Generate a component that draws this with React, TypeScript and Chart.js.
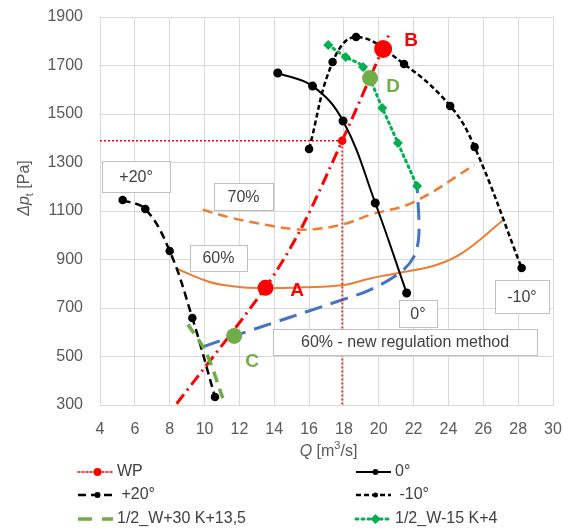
import React, { useEffect, useRef } from "react";
import { Chart, registerables } from "chart.js";

Chart.register(...registerables);

// ---- data (Q [m3/s], Δp [Pa]) ----
const qTicks = [4, 6, 8, 10, 12, 14, 16, 18, 20, 22, 24, 26, 28, 30];
const pTicks = [300, 500, 700, 900, 1100, 1300, 1500, 1700, 1900];

const wpQ = [4, 17.9, 17.9];
const wpP = [1390, 1390, 300];

const deg0Q = [14.2, 16.2, 17.95, 19.8, 21.6];
const deg0P = [1669, 1615, 1471, 1133, 762];

const plus20Q = [5.3, 6.6, 8.0, 9.3, 10.6];
const plus20P = [1145, 1108, 935, 659, 333];

const minus10Q = [16.0, 17.35, 18.7, 21.45, 24.1, 25.5, 28.2];
const minus10P = [1356, 1714, 1818, 1706, 1533, 1364, 865];

const w30Q = [9.05, 10.1, 11.05];
const w30P = [632, 515, 328];

const w15Q = [17.1, 18.1, 19.1, 20.2, 21.1, 22.2];
const w15P = [1785, 1735, 1694, 1525, 1380, 1203];

const systemQ = [8.4, 13.5, 15.6, 17.9, 20.2, 20.6];
const systemP = [305, 785, 1035, 1390, 1765, 1830];

const eff60Q = [8.4, 10.3, 11.6, 13.2, 16.2, 18, 19.5, 21.2, 23.3, 24.8, 27.1];
const eff60P = [862, 807, 790, 782, 787, 795, 822, 845, 877, 927, 1060];

const eff70Q = [9.9, 11.6, 13.6, 15.1, 16.2, 18, 19.5, 22, 25.5];
const eff70P = [1105, 1071, 1042, 1026, 1024, 1046, 1084, 1137, 1290];

const newRegQ = [9.9, 11.7, 18.2, 19.5, 21.2, 22.0, 22.3, 22.2];
const newRegP = [540, 585, 741, 775, 845, 910, 1000, 1205];

const opNames = ["A", "B", "C", "D"];
const opQ = [13.5, 20.25, 11.7, 19.5];
const opP = [783, 1768, 585, 1648];

const boxTexts = ["+20°", "70%", "60%", "60% - new regulation method", "0°", "-10°"];

// ---- layout of annotations (data-space anchors, pixel sizes) ----
const boxLayout = [
  { q: 6.07, p: 1242, w: 68, h: 31 },
  { q: 12.24, p: 1160, w: 59, h: 27 },
  { q: 10.8, p: 906, w: 57, h: 26 },
  { q: 21.51, p: 560, w: 264, h: 26 },
  { q: 22.25, p: 677, w: 38, h: 27 },
  { q: 28.22, p: 747, w: 54, h: 33 },
];
const letterLayout = [
  { q: 15.31, p: 770, color: "#FF0000" },
  { q: 21.85, p: 1801, color: "#FF0000" },
  { q: 12.73, p: 477, color: "#70AD47" },
  { q: 20.82, p: 1611, color: "#70AD47" },
];

const FONT = '"Liberation Sans", Arial, sans-serif';
const zip = (xs: number[], ys: number[]) => xs.map((x, i) => ({ x, y: ys[i] }));

type LegendItem = {
  text: string;
  color: string;
  width: number;
  dash: number[];
  marker: "circle" | "diamond" | null;
  r: number;
};
const legendItems: LegendItem[] = [
  { text: "WP", color: "#FF0000", width: 1.5, dash: [2, 2], marker: "circle", r: 4 },
  { text: "0°", color: "#000000", width: 2, dash: [], marker: "circle", r: 3 },
  { text: " +20°", color: "#000000", width: 2.5, dash: [8, 5], marker: "circle", r: 3 },
  { text: " -10°", color: "#000000", width: 2.5, dash: [5, 3], marker: "circle", r: 2.5 },
  { text: "1/2_W+30 K+13,5", color: "#70AD47", width: 3.5, dash: [14, 10], marker: null, r: 0 },
  { text: "1/2_W-15 K+4", color: "#00B050", width: 3, dash: [2, 4], marker: "diamond", r: 5 },
];

function drawMarker(ctx: CanvasRenderingContext2D, kind: string | null, x: number, y: number, r: number, color: string) {
  if (!kind) return;
  ctx.save();
  ctx.setLineDash([]);
  ctx.fillStyle = color;
  ctx.beginPath();
  if (kind === "circle") {
    ctx.arc(x, y, r, 0, Math.PI * 2);
  } else {
    ctx.moveTo(x, y - r);
    ctx.lineTo(x + r, y);
    ctx.lineTo(x, y + r);
    ctx.lineTo(x - r, y);
    ctx.closePath();
  }
  ctx.fill();
  ctx.restore();
}

const overlayPlugin = {
  id: "overlay",
  afterDatasetsDraw(chart: any) {
    const ctx: CanvasRenderingContext2D = chart.ctx;
    const xs = chart.scales.x;
    const ys = chart.scales.y;
    ctx.save();
    // text boxes
    boxTexts.forEach((t, i) => {
      const b = boxLayout[i];
      const cx = xs.getPixelForValue(b.q);
      const cy = ys.getPixelForValue(b.p);
      const x0 = Math.round(cx - b.w / 2) + 0.5;
      const y0 = Math.round(cy - b.h / 2) + 0.5;
      ctx.fillStyle = "#FFFFFF";
      ctx.fillRect(x0, y0, b.w, b.h);
      ctx.strokeStyle = "#BFBFBF";
      ctx.lineWidth = 1;
      ctx.setLineDash([]);
      ctx.strokeRect(x0, y0, b.w, b.h);
      ctx.fillStyle = "#404040";
      ctx.font = `16px ${FONT}`;
      ctx.textAlign = "center";
      ctx.textBaseline = "middle";
      ctx.fillText(t, cx, cy + 1);
    });
    // operating point letters
    opNames.forEach((n, i) => {
      const l = letterLayout[i];
      ctx.fillStyle = l.color;
      ctx.font = `bold 19px ${FONT}`;
      ctx.textAlign = "center";
      ctx.textBaseline = "middle";
      ctx.fillText(n, xs.getPixelForValue(l.q), ys.getPixelForValue(l.p));
    });
    ctx.restore();
  },
  afterDraw(chart: any) {
    const ctx: CanvasRenderingContext2D = chart.ctx;
    const area = chart.chartArea;
    ctx.save();
    ctx.fillStyle = "#595959";
    ctx.textBaseline = "middle";
    // x title: Q [m3/s]
    {
      const italic = `italic 16px ${FONT}`;
      const normal = `16px ${FONT}`;
      const small = `11px ${FONT}`;
      const parts = [
        { t: "Q", f: italic, dy: 0 },
        { t: " [m", f: normal, dy: 0 },
        { t: "3", f: small, dy: -6 },
        { t: "/s]", f: normal, dy: 0 },
      ];
      let total = 0;
      parts.forEach((p) => { ctx.font = p.f; total += ctx.measureText(p.t).width; });
      let x = (area.left + area.right) / 2 - total / 2 + 2;
      const y = 452;
      ctx.textAlign = "left";
      parts.forEach((p) => {
        ctx.font = p.f;
        ctx.fillText(p.t, x, y + p.dy);
        x += ctx.measureText(p.t).width;
      });
    }
    // y title: Δp_t [Pa]
    {
      ctx.save();
      ctx.translate(25, 188);
      ctx.rotate(-Math.PI / 2);
      const parts = [
        { t: "Δp", f: `italic 16px ${FONT}`, dy: 0 },
        { t: "t", f: `11px ${FONT}`, dy: 5 },
        { t: " [Pa]", f: `16px ${FONT}`, dy: 0 },
      ];
      let total = 0;
      parts.forEach((p) => { ctx.font = p.f; total += ctx.measureText(p.t).width; });
      let x = -total / 2;
      ctx.textAlign = "left";
      parts.forEach((p) => {
        ctx.font = p.f;
        ctx.fillText(p.t, x, p.dy);
        x += ctx.measureText(p.t).width;
      });
      ctx.restore();
    }
    // legend (2 columns)
    const colX = [78, 356];
    const rowY = [472, 495, 519];
    legendItems.forEach((it, i) => {
      const x = colX[i % 2];
      const y = rowY[Math.floor(i / 2)];
      const len = 35;
      ctx.save();
      ctx.strokeStyle = it.color;
      ctx.lineWidth = it.width;
      ctx.setLineDash(it.dash);
      ctx.lineCap = it.dash.length && it.dash[0] <= 3 ? "round" : "butt";
      ctx.beginPath();
      ctx.moveTo(x, y);
      ctx.lineTo(x + len, y);
      ctx.stroke();
      ctx.restore();
      drawMarker(ctx, it.marker, x + len / 2 + 2, y, it.r, it.color);
      ctx.fillStyle = "#404040";
      ctx.font = `16px ${FONT}`;
      ctx.textAlign = "left";
      ctx.textBaseline = "middle";
      ctx.fillText(it.text, x + len + 4, y);
    });
    ctx.restore();
  },
};

export default function App() {
  const ref = useRef<HTMLCanvasElement | null>(null);

  useEffect(() => {
    if (!ref.current) return;
    const line = (
      label: string,
      q: number[],
      p: number[],
      color: string,
      width: number,
      dash: number[],
      extra: any = {}
    ) => ({
      label,
      data: zip(q, p),
      showLine: true,
      borderColor: color,
      backgroundColor: color,
      borderWidth: width,
      borderDash: dash,
      tension: 0.4,
      pointRadius: 0,
      pointHoverRadius: 0,
      ...extra,
    });

    const chart = new Chart(ref.current, {
      type: "scatter",
      data: {
        datasets: [
          {
            label: "points",
            data: zip(opQ, opP),
            showLine: false,
            pointRadius: [8, 9, 8, 8],
            pointBackgroundColor: ["#FF0000", "#FF0000", "#70AD47", "#70AD47"],
            pointBorderColor: ["#FF0000", "#FF0000", "#70AD47", "#70AD47"],
            pointBorderWidth: 0,
          },
          line("1/2_W-15 K+4", w15Q, w15P, "#00B050", 3, [2, 4], {
            pointRadius: 5,
            pointStyle: "rectRot",
            pointBorderWidth: 0,
            borderCapStyle: "round",
            tension: 0.3,
          }),
          line("1/2_W+30 K+13,5", w30Q, w30P, "#70AD47", 3.5, [11, 7], { tension: 0.3 }),
          line("WP", wpQ, wpP, "#FF0000", 1.5, [2, 2], { pointRadius: [0, 3.5, 0], tension: 0 }),
          line("0°", deg0Q, deg0P, "#000000", 2, [], { pointRadius: 3.5 }),
          line("+20°", plus20Q, plus20P, "#000000", 2.5, [8, 5], { pointRadius: 3 }),
          line("-10°", minus10Q, minus10P, "#000000", 2.5, [5, 3], { pointRadius: 3 }),
          line("system", systemQ, systemP, "#FF0000", 3, [12, 5, 2, 5], { tension: 0.3 }),
          line("new regulation", newRegQ, newRegP, "#4472C4", 3, [18, 9], { tension: 0.35 }),
          line("60%", eff60Q, eff60P, "#ED7D31", 2, [], {}),
          line("70%", eff70Q, eff70P, "#ED7D31", 2.5, [10, 6], {}),
        ],
      },
      options: {
        responsive: false,
        animation: false,
        events: [],
        layout: { padding: { top: 17, right: 25, left: 0, bottom: 0 } },
        plugins: {
          legend: { display: false },
          tooltip: { enabled: false },
          title: { display: false },
        },
        scales: {
          x: {
            type: "linear",
            min: qTicks[0],
            max: qTicks[qTicks.length - 1],
            afterFit: (s: any) => { s.height = 127; s.paddingLeft = 0; s.paddingRight = 0; },
            afterBuildTicks: (s: any) => { s.ticks = qTicks.map((v) => ({ value: v })); },
            ticks: {
              color: "#595959",
              font: { family: FONT, size: 16 },
              padding: 15,
              maxRotation: 0,
              callback: (v: any) => String(v),
            },
            grid: { color: "#D9D9D9", drawTicks: false, lineWidth: 1 },
            border: { color: "#D9D9D9" },
          },
          y: {
            type: "linear",
            min: pTicks[0],
            max: pTicks[pTicks.length - 1],
            afterFit: (s: any) => { s.width = 100; s.paddingTop = 0; s.paddingBottom = 0; },
            afterBuildTicks: (s: any) => { s.ticks = pTicks.map((v) => ({ value: v })); },
            ticks: {
              color: "#595959",
              font: { family: FONT, size: 16 },
              padding: 17,
              callback: (v: any) => String(v),
            },
            grid: { color: "#D9D9D9", drawTicks: false, lineWidth: 1 },
            border: { color: "#D9D9D9" },
          },
        },
      },
      plugins: [overlayPlugin],
    } as any);

    return () => chart.destroy();
  }, []);

  return (
    <div style={{ position: "fixed", left: 0, top: 0, width: 578, height: 532, background: "#FFFFFF" }}>
      <canvas ref={ref} width={578} height={532} style={{ display: "block" }} />
    </div>
  );
}
